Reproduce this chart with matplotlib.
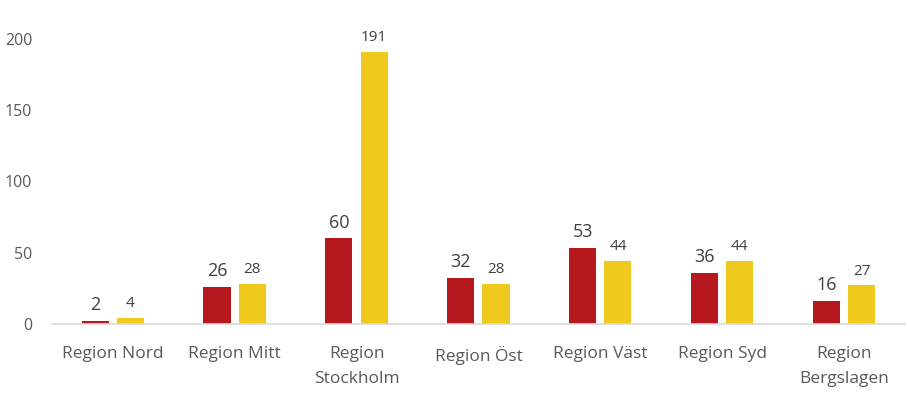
import matplotlib.pyplot as plt
import numpy as np

plt.rcParams['font.family'] = ['Open Sans', 'DejaVu Sans']

regions = ["Region Nord", "Region Mitt", "Region\nStockholm", "Region Öst",
           "Region Väst", "Region Syd", "Region\nBergslagen"]
red_vals = [2, 26, 60, 32, 53, 36, 16]
yellow_vals = [4, 28, 191, 28, 44, 44, 27]

red = '#B5181D'
yellow = '#F0C91F'
text_col = '#595959'

fig = plt.figure(figsize=(9.07, 3.98), dpi=100)
ax = fig.add_axes([0.057, 0.186, 0.941, 0.77])

x = np.arange(len(regions))
w = 0.222
off = 0.144
b1 = ax.bar(x - off, red_vals, w, color=red)
b2 = ax.bar(x + off, yellow_vals, w, color=yellow)

for rect, v in zip(b1, red_vals):
    ax.annotate(str(v), (rect.get_x() + rect.get_width() / 2, v),
                xytext=(0, 5), textcoords='offset points',
                ha='center', va='bottom', fontsize=13, color='#404040')
for rect, v in zip(b2, yellow_vals):
    ax.annotate(str(v), (rect.get_x() + rect.get_width() / 2, v),
                xytext=(0, 5), textcoords='offset points',
                ha='center', va='bottom', fontsize=11, color='#404040')

ax.set_xlim(-0.5, len(regions) - 0.5)
ax.set_ylim(0, 215)
ax.set_yticks([0, 50, 100, 150, 200])
ax.set_xticks(x)
ax.set_xticklabels(regions, fontsize=12.5, color=text_col, linespacing=1.7)
ax.tick_params(axis='y', labelsize=11.5, labelcolor=text_col, length=0, pad=14)
ax.tick_params(axis='x', length=0, pad=16)
for s in ['top', 'right', 'left']:
    ax.spines[s].set_visible(False)
ax.spines['bottom'].set_color('#D9D9D9')
ax.spines['bottom'].set_linewidth(1.2)

fig.savefig('out.png', dpi=100)
